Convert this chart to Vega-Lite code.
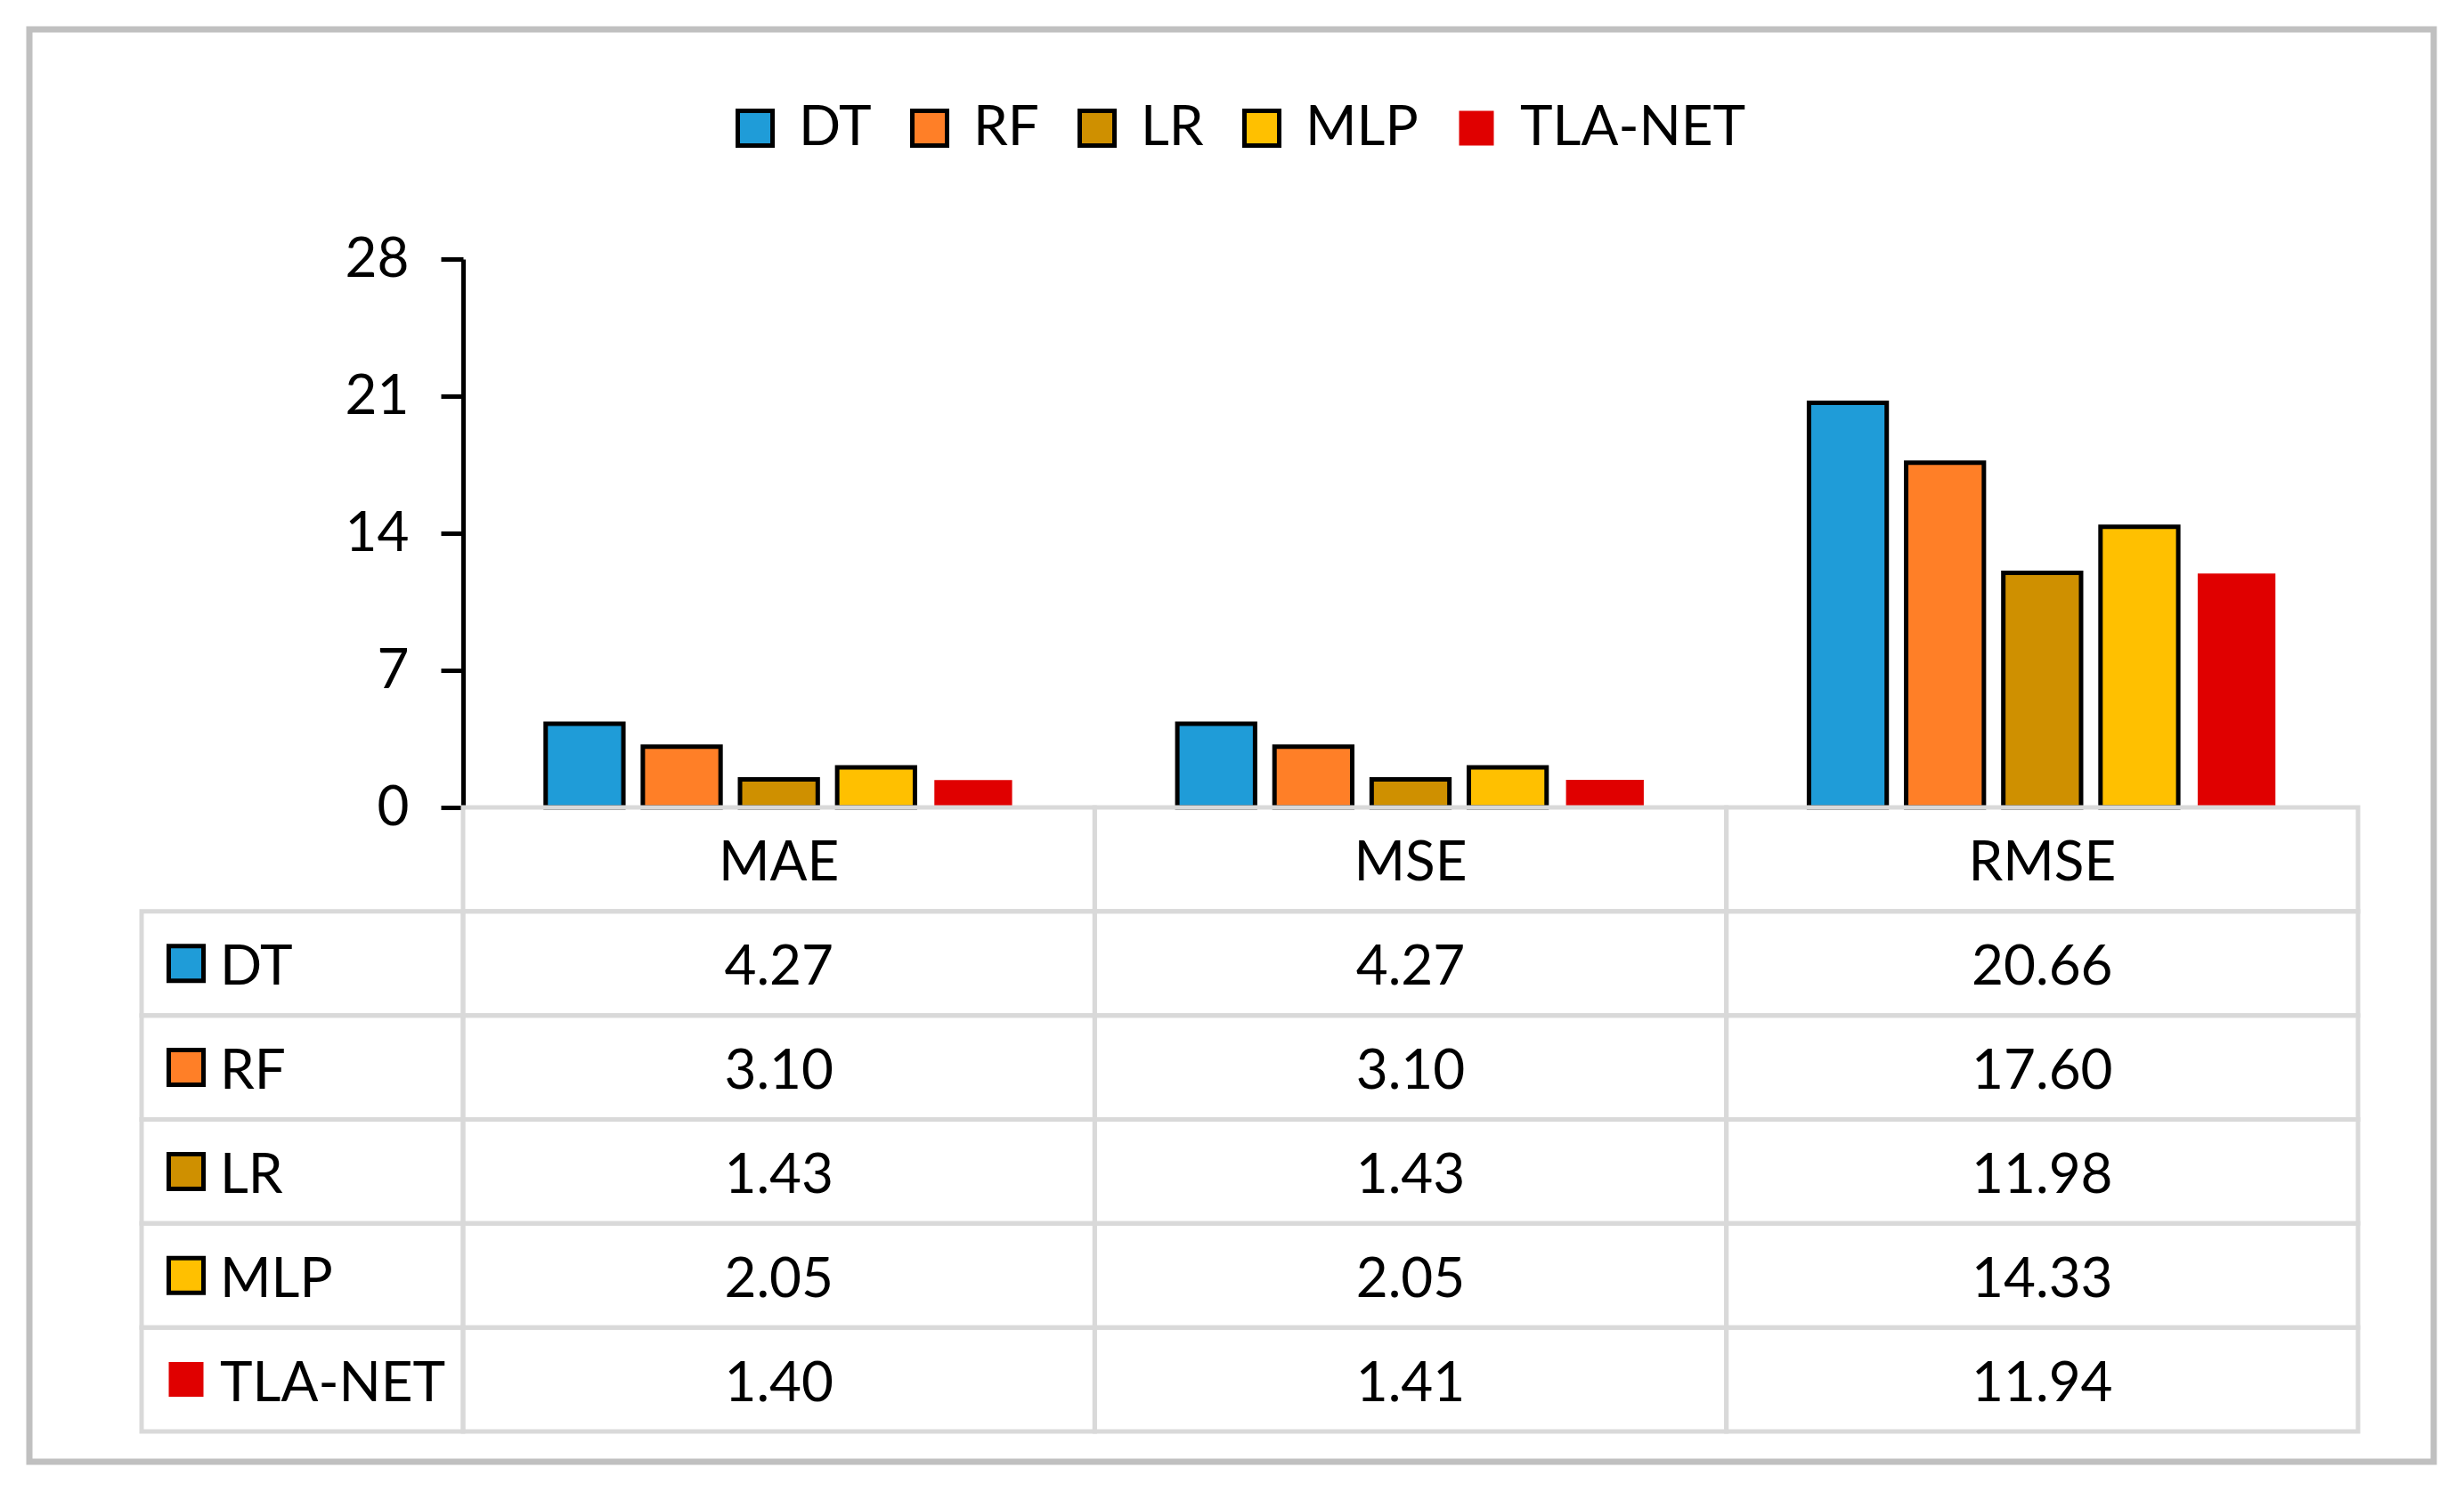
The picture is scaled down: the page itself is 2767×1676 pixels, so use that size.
{
  "$schema": "https://vega.github.io/schema/vega-lite/v6.json",
  "width": 2700,
  "height": 1609,
  "autosize": {"type": "none"},
  "padding": {"left": 33, "top": 33, "right": 34, "bottom": 34},
  "background": "white",
  "config": {
    "font": "Lato",
    "view": {"stroke": "#c0c0c0", "strokeWidth": 7},
    "text": {"font": "Lato", "fontSize": 62, "color": "black"}
  },
  "data": {
    "values": [
      {"model": "DT", "metric": "MAE", "value": 4.27},
      {"model": "DT", "metric": "MSE", "value": 4.27},
      {"model": "DT", "metric": "RMSE", "value": 20.66},
      {"model": "RF", "metric": "MAE", "value": 3.10},
      {"model": "RF", "metric": "MSE", "value": 3.10},
      {"model": "RF", "metric": "RMSE", "value": 17.60},
      {"model": "LR", "metric": "MAE", "value": 1.43},
      {"model": "LR", "metric": "MSE", "value": 1.43},
      {"model": "LR", "metric": "RMSE", "value": 11.98},
      {"model": "MLP", "metric": "MAE", "value": 2.05},
      {"model": "MLP", "metric": "MSE", "value": 2.05},
      {"model": "MLP", "metric": "RMSE", "value": 14.33},
      {"model": "TLA-NET", "metric": "MAE", "value": 1.40},
      {"model": "TLA-NET", "metric": "MSE", "value": 1.41},
      {"model": "TLA-NET", "metric": "RMSE", "value": 11.94}
    ]
  },
  "resolve": {"scale": {"x": "independent", "y": "independent"}},
  "layer": [
    {
      "mark": {"type": "bar", "strokeWidth": 5},
      "encoding": {
        "x": {"field": "metric", "type": "nominal", "axis": null,
              "scale": {"type": "band", "domain": ["MAE", "MSE", "RMSE"], "range": [487, 2615], "paddingInner": 0, "paddingOuter": 0}},
        "xOffset": {"field": "model", "type": "nominal",
                    "scale": {"domain": ["DT", "RF", "LR", "MLP", "TLA-NET"], "paddingInner": 0.2, "paddingOuter": 0.85}},
        "y": {"field": "value", "type": "quantitative",
              "scale": {"domain": [0, 28], "range": [874, 258], "nice": false},
              "axis": {"title": null, "values": [0, 7, 14, 21, 28], "grid": false, "offset": -487,
                       "domainColor": "black", "domainWidth": 5, "tickColor": "black", "tickWidth": 5, "tickSize": 25,
                       "labelFont": "Lato", "labelFontSize": 62, "labelColor": "black", "labelPadding": 36}},
        "color": {"field": "model", "type": "nominal",
                  "scale": {"domain": ["DT", "RF", "LR", "MLP", "TLA-NET"], "range": ["#1f9cd8", "#ff7f27", "#cf9000", "#ffc000", "#e00000"]},
                  "legend": {"orient": "none", "legendX": 784, "legendY": 80, "direction": "horizontal", "title": null,
                             "symbolType": "square", "symbolSize": 1521, "symbolStrokeWidth": 5, "symbolOpacity": 1,
                             "labelFont": "Lato", "labelFontSize": 62, "labelColor": "black", "labelOffset": 18,
                             "columnPadding": 34, "padding": 0, "labelLimit": 1000}},
        "stroke": {"field": "model", "type": "nominal",
                   "scale": {"domain": ["DT", "RF", "LR", "MLP", "TLA-NET"], "range": ["black", "black", "black", "black", "transparent"]},
                   "legend": {"orient": "none", "legendX": 784, "legendY": 80, "direction": "horizontal", "title": null,
                              "symbolType": "square", "symbolSize": 1521, "symbolStrokeWidth": 5, "symbolOpacity": 1,
                              "labelFont": "Lato", "labelFontSize": 62, "labelColor": "black", "labelOffset": 18,
                              "columnPadding": 34, "padding": 0, "labelLimit": 1000}}
      }
    },
    {
      "mark": {"type": "rect", "fill": "transparent", "stroke": "#d9d9d9", "strokeWidth": 5},
      "encoding": {
        "x": {"field": "metric", "type": "nominal", "axis": null,
              "scale": {"type": "band", "domain": ["MAE", "MSE", "RMSE"], "range": [487, 2615], "paddingInner": 0, "paddingOuter": 0}},
        "y": {"field": "model", "type": "nominal", "axis": null,
              "scale": {"type": "band", "domain": ["header", "DT", "RF", "LR", "MLP", "TLA-NET"], "range": [874, 1575], "paddingInner": 0, "paddingOuter": 0}}
      }
    },
    {
      "transform": [{"filter": "datum.model === 'DT'"}],
      "mark": {"type": "rect", "fill": "transparent", "stroke": "#d9d9d9", "strokeWidth": 5},
      "encoding": {
        "x": {"field": "metric", "type": "nominal", "axis": null,
              "scale": {"type": "band", "domain": ["MAE", "MSE", "RMSE"], "range": [487, 2615], "paddingInner": 0, "paddingOuter": 0}},
        "y": {"datum": "header", "type": "nominal", "axis": null,
              "scale": {"type": "band", "domain": ["header", "DT", "RF", "LR", "MLP", "TLA-NET"], "range": [874, 1575], "paddingInner": 0, "paddingOuter": 0}}
      }
    },
    {
      "transform": [{"filter": "datum.metric === 'MAE'"}],
      "mark": {"type": "rect", "fill": "transparent", "stroke": "#d9d9d9", "strokeWidth": 5},
      "encoding": {
        "x": {"datum": "key", "type": "nominal", "axis": null,
              "scale": {"type": "band", "domain": ["key"], "range": [126, 487], "paddingInner": 0, "paddingOuter": 0}},
        "y": {"field": "model", "type": "nominal", "axis": null,
              "scale": {"type": "band", "domain": ["header", "DT", "RF", "LR", "MLP", "TLA-NET"], "range": [874, 1575], "paddingInner": 0, "paddingOuter": 0}}
      }
    },
    {
      "mark": {"type": "text", "font": "Lato", "fontSize": 62, "color": "black", "dy": 5},
      "encoding": {
        "x": {"field": "metric", "type": "nominal", "axis": null,
              "scale": {"type": "band", "domain": ["MAE", "MSE", "RMSE"], "range": [487, 2615], "paddingInner": 0, "paddingOuter": 0}},
        "y": {"field": "model", "type": "nominal", "axis": null,
              "scale": {"type": "band", "domain": ["header", "DT", "RF", "LR", "MLP", "TLA-NET"], "range": [874, 1575], "paddingInner": 0, "paddingOuter": 0}},
        "text": {"field": "value", "type": "quantitative", "format": ".2f"}
      }
    },
    {
      "transform": [{"filter": "datum.model === 'DT'"}],
      "mark": {"type": "text", "font": "Lato", "fontSize": 62, "color": "black", "dy": 5},
      "encoding": {
        "x": {"field": "metric", "type": "nominal", "axis": null,
              "scale": {"type": "band", "domain": ["MAE", "MSE", "RMSE"], "range": [487, 2615], "paddingInner": 0, "paddingOuter": 0}},
        "y": {"datum": "header", "type": "nominal", "axis": null,
              "scale": {"type": "band", "domain": ["header", "DT", "RF", "LR", "MLP", "TLA-NET"], "range": [874, 1575], "paddingInner": 0, "paddingOuter": 0}},
        "text": {"field": "metric", "type": "nominal"}
      }
    },
    {
      "transform": [{"filter": "datum.metric === 'MAE'"}],
      "mark": {"type": "point", "shape": "square", "size": 1521, "filled": true, "opacity": 1, "strokeWidth": 5},
      "encoding": {
        "x": {"datum": "key", "type": "nominal", "axis": null,
              "scale": {"type": "point", "domain": ["key"], "range": [176, 176]}},
        "y": {"field": "model", "type": "nominal", "axis": null,
              "scale": {"type": "band", "domain": ["header", "DT", "RF", "LR", "MLP", "TLA-NET"], "range": [874, 1575], "paddingInner": 0, "paddingOuter": 0}},
        "color": {"field": "model", "type": "nominal"},
        "stroke": {"field": "model", "type": "nominal"}
      }
    },
    {
      "transform": [{"filter": "datum.metric === 'MAE'"}],
      "mark": {"type": "text", "align": "left", "font": "Lato", "fontSize": 62, "color": "black", "dy": 5},
      "encoding": {
        "x": {"datum": "key", "type": "nominal", "axis": null,
              "scale": {"type": "point", "domain": ["key"], "range": [214, 214]}},
        "y": {"field": "model", "type": "nominal", "axis": null,
              "scale": {"type": "band", "domain": ["header", "DT", "RF", "LR", "MLP", "TLA-NET"], "range": [874, 1575], "paddingInner": 0, "paddingOuter": 0}},
        "text": {"field": "model", "type": "nominal"}
      }
    }
  ]
}
